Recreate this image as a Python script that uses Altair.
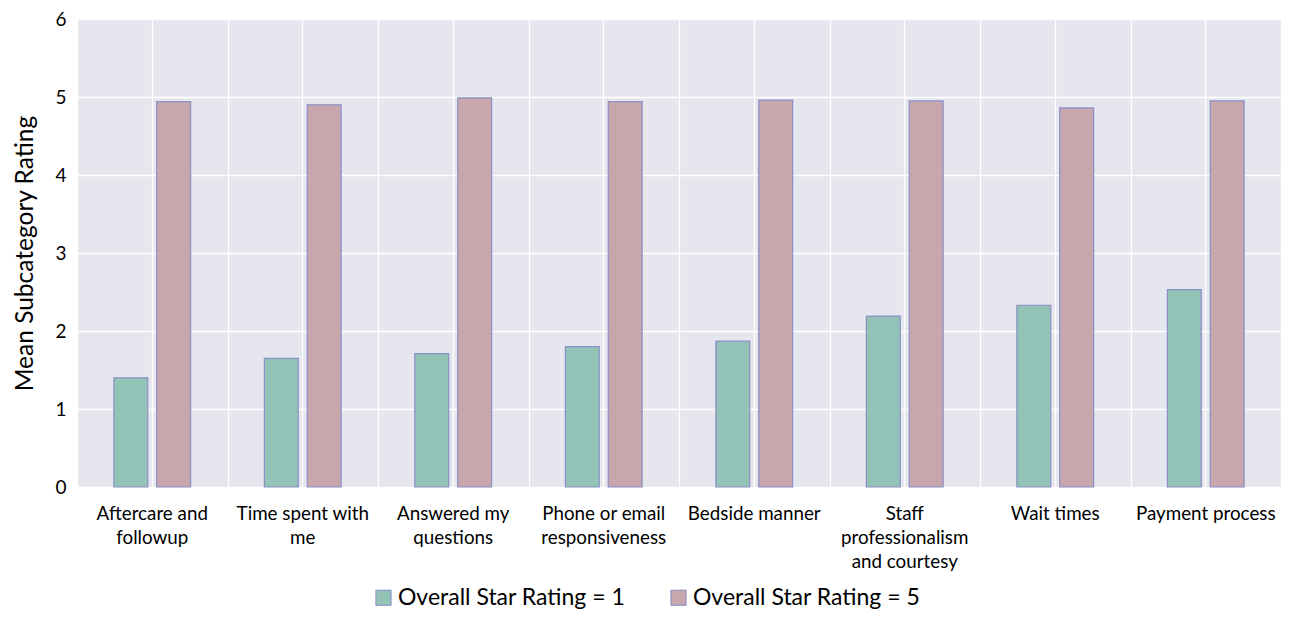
import altair as alt
import pandas as pd

categories = [
    "Aftercare and\nfollowup",
    "Time spent with\nme",
    "Answered my\nquestions",
    "Phone or email\nresponsiveness",
    "Bedside manner",
    "Staff\nprofessionalism\nand courtesy",
    "Wait times",
    "Payment process",
]
groups = ["Overall Star Rating = 1", "Overall Star Rating = 5"]
rating1 = [1.40, 1.65, 1.71, 1.80, 1.87, 2.19, 2.33, 2.53]
rating5 = [4.94, 4.90, 4.99, 4.94, 4.96, 4.95, 4.86, 4.95]
colors = ["#93c2b6", "#c7a7ad"]

rows = []
for c, a, b in zip(categories, rating1, rating5):
    rows.append({"category": c, "group": groups[0], "value": a})
    rows.append({"category": c, "group": groups[1], "value": b})
df = pd.DataFrame(rows)

FONT = "Lato"
xscale = alt.Scale(paddingInner=0, paddingOuter=0)

bars = alt.Chart(df).mark_bar(stroke="#8a8fc6", strokeWidth=1.2).encode(
    x=alt.X(
        "category:N",
        sort=categories,
        scale=xscale,
        axis=alt.Axis(
            title=None,
            grid=True,
            gridColor="white",
            gridWidth=1.3,
            ticks=False,
            domain=False,
            labelAngle=0,
            labelFontSize=18.8,
            labelFont=FONT,
            labelColor="black",
            labelPadding=17,
            labelBaseline="top",
            labelLineHeight=24,
            labelLimit=0,
            labelExpr="split(datum.label, '\\n')",
        ),
    ),
    xOffset=alt.XOffset(
        "group:N", sort=groups, scale=alt.Scale(paddingInner=0.21, paddingOuter=0.86)
    ),
    y=alt.Y(
        "value:Q",
        scale=alt.Scale(domain=[0, 6], nice=False),
        axis=alt.Axis(
            title="Mean Subcategory Rating",
            values=[0, 1, 2, 3, 4, 5, 6],
            grid=True,
            gridColor="white",
            gridWidth=1.3,
            ticks=False,
            domain=False,
            labelFontSize=19,
            labelFont=FONT,
            labelColor="black",
            labelPadding=11,
            titleFontSize=24.5,
            titleFont=FONT,
            titleFontWeight="normal",
            titleColor="black",
            titlePadding=17,
        ),
    ),
    color=alt.Color(
        "group:N",
        sort=groups,
        scale=alt.Scale(domain=groups, range=colors),
        legend=alt.Legend(
            title=None,
            orient="none",
            legendX=295,
            legendY=567,
            direction="horizontal",
            symbolType="square",
            symbolSize=230,
            symbolStrokeColor="#8a8fc6",
            symbolStrokeWidth=1,
            labelFontSize=23,
            labelFont=FONT,
            labelColor="black",
            labelOffset=3,
            labelLimit=0,
            columnPadding=41,
        ),
    ),
)

grid_layer = alt.Chart(df).mark_bar(opacity=0).encode(
    x=alt.X(
        "category:N",
        sort=categories,
        scale=xscale,
        axis=alt.Axis(
            orient="top",
            title=None,
            tickBand="extent",
            grid=True,
            gridColor="white",
            gridWidth=1.3,
            labels=False,
            ticks=False,
            domain=False,
        ),
    ),
)

chart = (
    alt.layer(grid_layer, bars)
    .resolve_axis(x="independent")
    .properties(
        width=1204,
        height=468,
        autosize=alt.AutoSizeParams(type="none"),
        padding={"left": 69, "top": 11, "right": 0, "bottom": 123},
    )
    .configure_view(fill="#e6e6ee", stroke=None)
)

chart.save("out.html", embed_options={"renderer": "svg", "actions": False})
